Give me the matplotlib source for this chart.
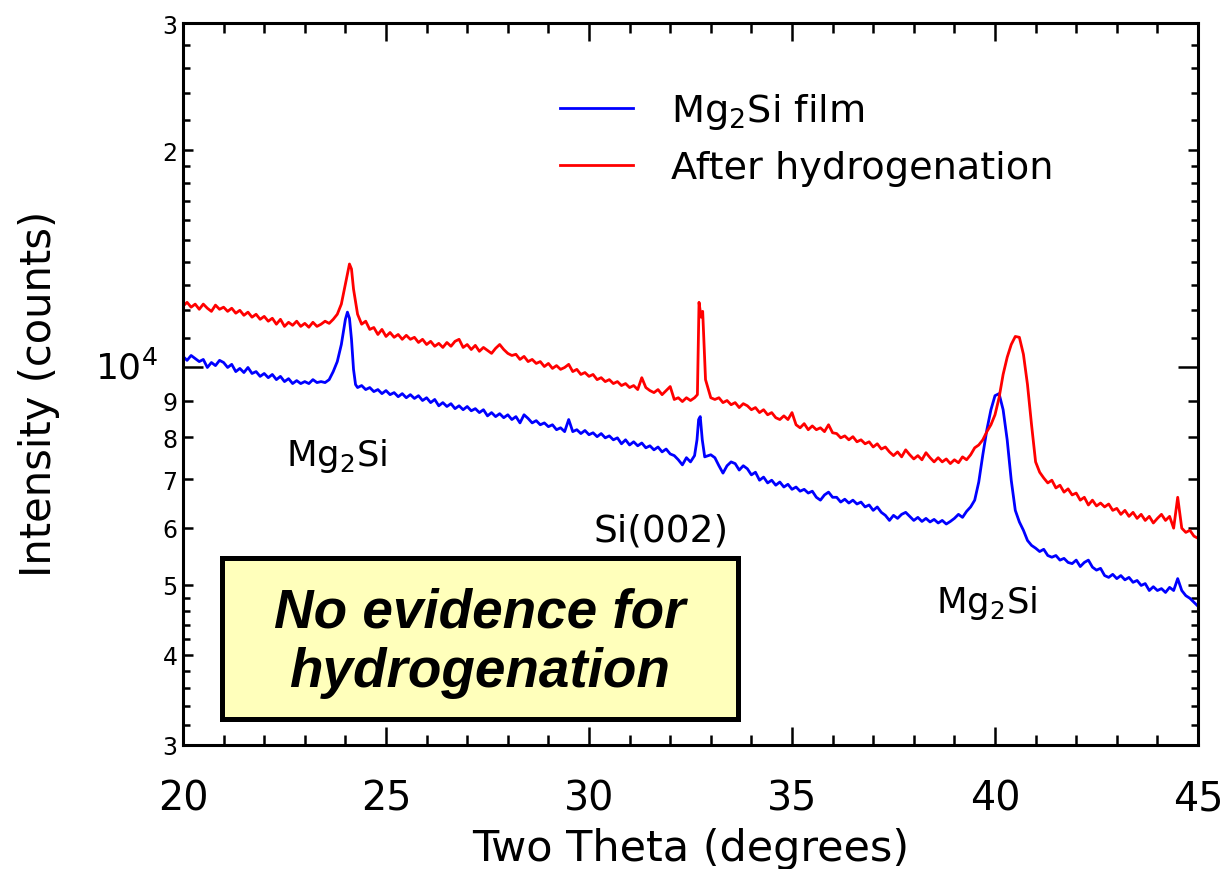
import numpy as np
import matplotlib
matplotlib.use("Agg")
import matplotlib.pyplot as plt
from matplotlib.ticker import FixedLocator, FixedFormatter, NullFormatter
from matplotlib.patches import Rectangle

plt.rcParams['font.family'] = ['DejaVu Sans']
plt.rcParams['mathtext.default'] = 'regular'

# XRD scan of the as-deposited Mg2Si film
film_theta = [
    20.0, 20.1, 20.2, 20.3, 20.4, 20.5, 20.6, 20.7, 20.8, 20.9,
    21.0, 21.1, 21.2, 21.3, 21.4, 21.5, 21.6, 21.7, 21.8, 21.9,
    22.0, 22.1, 22.2, 22.3, 22.4, 22.5, 22.6, 22.7, 22.8, 22.9,
    23.0, 23.1, 23.2, 23.3, 23.4, 23.5, 23.6, 23.7, 23.8, 23.9,
    24.0, 24.05, 24.1, 24.15, 24.2, 24.25, 24.3, 24.4, 24.5, 24.6,
    24.7, 24.8, 24.9, 25.0, 25.1, 25.2, 25.3, 25.4, 25.5, 25.6,
    25.7, 25.8, 25.9, 26.0, 26.1, 26.2, 26.3, 26.4, 26.5, 26.6,
    26.7, 26.8, 26.9, 27.0, 27.1, 27.2, 27.3, 27.4, 27.5, 27.6,
    27.7, 27.8, 27.9, 28.0, 28.1, 28.2, 28.3, 28.4, 28.5, 28.6,
    28.7, 28.8, 28.9, 29.0, 29.1, 29.2, 29.3, 29.4, 29.5, 29.6,
    29.7, 29.8, 29.9, 30.0, 30.1, 30.2, 30.3, 30.4, 30.5, 30.6,
    30.7, 30.8, 30.9, 31.0, 31.1, 31.2, 31.3, 31.4, 31.5, 31.6,
    31.7, 31.8, 31.9, 32.0, 32.1, 32.2, 32.3, 32.4, 32.5, 32.6,
    32.66, 32.7, 32.74, 32.79, 32.85, 33.0, 33.1, 33.2, 33.3, 33.4,
    33.5, 33.6, 33.7, 33.8, 33.9, 34.0, 34.1, 34.2, 34.3, 34.4,
    34.5, 34.6, 34.7, 34.8, 34.9, 35.0, 35.1, 35.2, 35.3, 35.4,
    35.5, 35.6, 35.7, 35.8, 35.9, 36.0, 36.1, 36.2, 36.3, 36.4,
    36.5, 36.6, 36.7, 36.8, 36.9, 37.0, 37.1, 37.2, 37.3, 37.4,
    37.5, 37.6, 37.7, 37.8, 37.9, 38.0, 38.1, 38.2, 38.3, 38.4,
    38.5, 38.6, 38.7, 38.8, 38.9, 39.0, 39.1, 39.2, 39.3, 39.4,
    39.5, 39.6, 39.7, 39.8, 39.9, 40.0, 40.1, 40.2, 40.3, 40.4,
    40.5, 40.6, 40.7, 40.8, 40.9, 41.0, 41.1, 41.2, 41.3, 41.4,
    41.5, 41.6, 41.7, 41.8, 41.9, 42.0, 42.1, 42.2, 42.3, 42.4,
    42.5, 42.6, 42.7, 42.8, 42.9, 43.0, 43.1, 43.2, 43.3, 43.4,
    43.5, 43.6, 43.7, 43.8, 43.9, 44.0, 44.1, 44.2, 44.3, 44.4,
    44.5, 44.6, 44.7, 44.8, 44.9, 45.0,
]
film_counts = [
    10360, 10230, 10390, 10290, 10190, 10260, 10000, 10160, 10060, 10230,
    10160, 10000, 10100, 9870, 9970, 9840, 10000, 9810, 9870, 9720,
    9810, 9680, 9780, 9620, 9720, 9560, 9650, 9500, 9590, 9500,
    9560, 9500, 9620, 9530, 9560, 9530, 9620, 9870, 10190, 10760,
    11660, 11930, 11700, 10940, 9940, 9470, 9380, 9440, 9320, 9380,
    9260, 9320, 9200, 9290, 9170, 9230, 9110, 9200, 9080, 9170,
    9060, 9140, 9000, 9080, 8940, 9030, 8850, 8940, 8830, 8910,
    8770, 8850, 8740, 8830, 8710, 8770, 8660, 8740, 8570, 8660,
    8550, 8630, 8520, 8600, 8470, 8550, 8380, 8600, 8500, 8380,
    8440, 8330, 8380, 8280, 8330, 8200, 8250, 8150, 8470, 8150,
    8200, 8100, 8180, 8070, 8120, 8020, 8100, 7990, 8040, 7940,
    7990, 7840, 7940, 7810, 7890, 7790, 7860, 7740, 7790, 7690,
    7760, 7640, 7710, 7590, 7550, 7450, 7330, 7500, 7400, 7550,
    7940, 8470, 8550, 7940, 7520, 7570, 7500, 7310, 7140, 7310,
    7400, 7360, 7210, 7310, 7240, 7100, 7160, 6980, 7050, 6920,
    6980, 6870, 6940, 6830, 6890, 6780, 6830, 6740, 6780, 6700,
    6740, 6610, 6550, 6660, 6720, 6610, 6610, 6510, 6570, 6490,
    6550, 6470, 6510, 6410, 6450, 6340, 6410, 6300, 6240, 6140,
    6240, 6180, 6260, 6300, 6220, 6140, 6200, 6120, 6180, 6110,
    6160, 6090, 6140, 6070, 6120, 6180, 6260, 6200, 6320, 6410,
    6550, 6940, 7570, 8200, 8740, 9140, 9200, 8740, 7940, 6980,
    6340, 6110, 5950, 5760, 5670, 5620, 5560, 5600, 5490, 5460,
    5490, 5410, 5440, 5370, 5350, 5410, 5300, 5370, 5410, 5290,
    5240, 5270, 5150, 5120, 5170, 5100, 5150, 5080, 5120, 5040,
    5070, 4990, 5020, 4910, 4970, 4910, 4940, 4880, 4960, 4910,
    5100, 4910, 4830, 4790, 4730, 4670,
]

# XRD scan of the same film after hydrogenation
hyd_theta = [
    20.0, 20.1, 20.2, 20.3, 20.4, 20.5, 20.6, 20.7, 20.8, 20.9,
    21.0, 21.1, 21.2, 21.3, 21.4, 21.5, 21.6, 21.7, 21.8, 21.9,
    22.0, 22.1, 22.2, 22.3, 22.4, 22.5, 22.6, 22.7, 22.8, 22.9,
    23.0, 23.1, 23.2, 23.3, 23.4, 23.5, 23.6, 23.7, 23.8, 23.9,
    24.0, 24.1, 24.15, 24.2, 24.3, 24.4, 24.5, 24.6, 24.7, 24.8,
    24.9, 25.0, 25.1, 25.2, 25.3, 25.4, 25.5, 25.6, 25.7, 25.8,
    25.9, 26.0, 26.1, 26.2, 26.3, 26.4, 26.5, 26.6, 26.7, 26.8,
    26.9, 27.0, 27.1, 27.2, 27.3, 27.4, 27.5, 27.6, 27.7, 27.8,
    27.9, 28.0, 28.1, 28.2, 28.3, 28.4, 28.5, 28.6, 28.7, 28.8,
    28.9, 29.0, 29.1, 29.2, 29.3, 29.4, 29.5, 29.6, 29.7, 29.8,
    29.9, 30.0, 30.1, 30.2, 30.3, 30.4, 30.5, 30.6, 30.7, 30.8,
    30.9, 31.0, 31.1, 31.2, 31.3, 31.4, 31.5, 31.6, 31.7, 31.8,
    31.9, 32.0, 32.1, 32.2, 32.3, 32.4, 32.5, 32.6, 32.67, 32.71,
    32.76, 32.8, 32.87, 33.0, 33.1, 33.2, 33.3, 33.4, 33.5, 33.6,
    33.7, 33.8, 33.9, 34.0, 34.1, 34.2, 34.3, 34.4, 34.5, 34.6,
    34.7, 34.8, 34.9, 35.0, 35.1, 35.2, 35.3, 35.4, 35.5, 35.6,
    35.7, 35.8, 35.9, 36.0, 36.1, 36.2, 36.3, 36.4, 36.5, 36.6,
    36.7, 36.8, 36.9, 37.0, 37.1, 37.2, 37.3, 37.4, 37.5, 37.6,
    37.7, 37.8, 37.9, 38.0, 38.1, 38.2, 38.3, 38.4, 38.5, 38.6,
    38.7, 38.8, 38.9, 39.0, 39.1, 39.2, 39.3, 39.4, 39.5, 39.6,
    39.7, 39.8, 39.9, 40.0, 40.1, 40.2, 40.3, 40.4, 40.5, 40.6,
    40.7, 40.8, 40.9, 41.0, 41.1, 41.2, 41.3, 41.4, 41.5, 41.6,
    41.7, 41.8, 41.9, 42.0, 42.1, 42.2, 42.3, 42.4, 42.5, 42.6,
    42.7, 42.8, 42.9, 43.0, 43.1, 43.2, 43.3, 43.4, 43.5, 43.6,
    43.7, 43.8, 43.9, 44.0, 44.1, 44.2, 44.3, 44.4, 44.5, 44.6,
    44.7, 44.8, 44.9, 45.0,
]
hyd_counts = [
    12160, 12310, 12120, 12240, 12040, 12240, 12080, 11960, 12200, 12040,
    12120, 11960, 12080, 11890, 12000, 11810, 11930, 11740, 11850, 11660,
    11770, 11590, 11700, 11480, 11660, 11400, 11550, 11440, 11590, 11400,
    11510, 11370, 11550, 11400, 11480, 11590, 11510, 11660, 11850, 12240,
    13040, 13910, 13690, 12840, 11850, 11480, 11590, 11290, 11360, 11110,
    11290, 11040, 11180, 11010, 11110, 10940, 11080, 10940, 11010, 10830,
    10940, 10760, 10870, 10700, 10800, 10660, 10830, 10700, 10870, 10940,
    10660, 10760, 10590, 10730, 10530, 10660, 10560, 10460, 10630, 10760,
    10590, 10460, 10390, 10430, 10260, 10360, 10190, 10260, 10130, 10190,
    10030, 10130, 9970, 10060, 9940, 10000, 10100, 9870, 9940, 9780,
    9840, 9720, 9780, 9620, 9680, 9560, 9620, 9500, 9560, 9440,
    9500, 9380, 9440, 9320, 9680, 9380, 9290, 9230, 9320, 9170,
    9290, 9410, 9030, 9080, 8970, 9080, 9000, 9080, 9170, 12310,
    11740, 11960, 9620, 9080, 9030, 9080, 8940, 9000, 8880, 8940,
    8800, 8910, 8850, 8740, 8800, 8660, 8740, 8600, 8660, 8520,
    8470, 8570, 8470, 8660, 8330, 8250, 8360, 8200, 8300, 8200,
    8250, 8150, 8330, 8120, 8100, 7990, 8040, 7940, 8020, 7890,
    7940, 7840, 7890, 7760, 7840, 7710, 7760, 7640, 7550, 7640,
    7520, 7690, 7570, 7470, 7550, 7450, 7620, 7500, 7400, 7500,
    7400, 7470, 7360, 7450, 7380, 7520, 7450, 7570, 7740, 7810,
    7940, 8150, 8330, 8600, 9080, 9780, 10330, 10760, 11040, 11010,
    10430, 9470, 8330, 7400, 7160, 7030, 6920, 6980, 6810, 6870,
    6720, 6790, 6660, 6700, 6550, 6610, 6450, 6550, 6430, 6490,
    6410, 6470, 6340, 6380, 6260, 6340, 6220, 6300, 6180, 6260,
    6140, 6220, 6090, 6180, 6260, 6140, 6220, 5990, 6610, 5990,
    5910, 5950, 5840, 5800,
]

series_labels = ["Mg$_2$Si film", "After hydrogenation"]
x_major = [20, 25, 30, 35, 40, 45]
x_minor = list(range(20, 46))
y_major = [3000, 4000, 5000, 6000, 7000, 8000, 9000, 20000, 30000]
y_major_labels = ["3", "4", "5", "6", "7", "8", "9", "2", "3"]
y_decade = 10000
y_minor = [3200, 3400, 3600, 3800, 4200, 4400, 4600, 4800,
           11000, 12000, 13000, 14000, 15000, 16000, 17000, 18000, 19000,
           22000, 24000, 26000, 28000]

W, H = 1224, 870
fig = plt.figure(figsize=(W / 100, H / 100), dpi=100)
ax_l, ax_r, ax_t, ax_b = 183, 1198, 24, 746
ax = fig.add_axes([ax_l / W, 1 - ax_b / H, (ax_r - ax_l) / W, (ax_b - ax_t) / H])

ax.plot(film_theta, film_counts, color='#0000ff', lw=2.0, label=series_labels[0])
ax.plot(hyd_theta, hyd_counts, color='#ff0000', lw=2.0, label=series_labels[1])

ax.set_yscale('log')
ax.set_xlim(20, 45)
ax.set_ylim(3000, 30000)

ax.xaxis.set_major_locator(FixedLocator(x_major))
ax.xaxis.set_minor_locator(FixedLocator(x_minor))
ax.yaxis.set_major_locator(FixedLocator(y_major))
ax.yaxis.set_major_formatter(FixedFormatter(y_major_labels))
ax.yaxis.set_minor_locator(FixedLocator(y_minor))
ax.yaxis.set_minor_formatter(NullFormatter())

for sp in ax.spines.values():
    sp.set_linewidth(2.2)

ax.tick_params(which='both', direction='in', top=True, right=True, width=1.8, color='black')
ax.tick_params(axis='x', which='major', length=13, labelsize=28.5, pad=24)
ax.tick_params(axis='x', which='minor', length=7)
ax.tick_params(axis='y', which='major', length=7.5, labelsize=17, pad=4)
ax.tick_params(axis='y', which='minor', length=5)

# long tick and label for the decade
ytr = ax.get_yaxis_transform()
tick_frac = 20 / (ax_r - ax_l)
ax.plot([0, tick_frac], [y_decade, y_decade], transform=ytr, color='black', lw=1.8,
        clip_on=False, solid_capstyle='butt')
ax.plot([1 - tick_frac, 1], [y_decade, y_decade], transform=ytr, color='black', lw=1.8,
        clip_on=False, solid_capstyle='butt')
ax.text(-25 / (ax_r - ax_l), y_decade, "10$^4$", transform=ytr, ha='right', va='center',
        fontsize=26)

ax.set_xlabel("Two Theta (degrees)", fontsize=31, labelpad=6)
ax.set_ylabel("Intensity (counts)", fontsize=30)
ax.yaxis.set_label_coords(-0.121, 0.488)

# peak assignments
ax.text(23.79, 7330, "Mg$_2$Si", fontsize=25.5, ha='center', va='baseline')
ax.text(31.77, 5765, "Si(002)", fontsize=27, ha='center', va='baseline')
ax.text(39.8, 4578, "Mg$_2$Si", fontsize=25.5, ha='center', va='baseline')

# highlighted conclusion box
bx0, bx1 = (222 - ax_l) / (ax_r - ax_l), (738 - ax_l) / (ax_r - ax_l)
by0, by1 = (ax_b - 720) / (ax_b - ax_t), (ax_b - 559) / (ax_b - ax_t)
ax.add_patch(Rectangle((bx0, by0), bx1 - bx0, by1 - by0, transform=ax.transAxes,
                       facecolor='#ffffbb', edgecolor='black', lw=3.6, zorder=5))
ax.text((bx0 + bx1) / 2, (by0 + by1) / 2 - 0.005, "No evidence for\nhydrogenation",
        transform=ax.transAxes, ha='center', va='center', fontsize=39.5,
        family='Liberation Sans', fontweight='bold', fontstyle='italic',
        linespacing=1.2, zorder=6)

ax.legend(loc='upper left', bbox_to_anchor=(560 / W, 1 - 92 / H),
          bbox_transform=fig.transFigure, frameon=False, fontsize=27.5,
          handlelength=1.9, handletextpad=1.0, labelspacing=0.5, borderpad=0,
          borderaxespad=0)

fig.savefig("out.png", dpi=100)
